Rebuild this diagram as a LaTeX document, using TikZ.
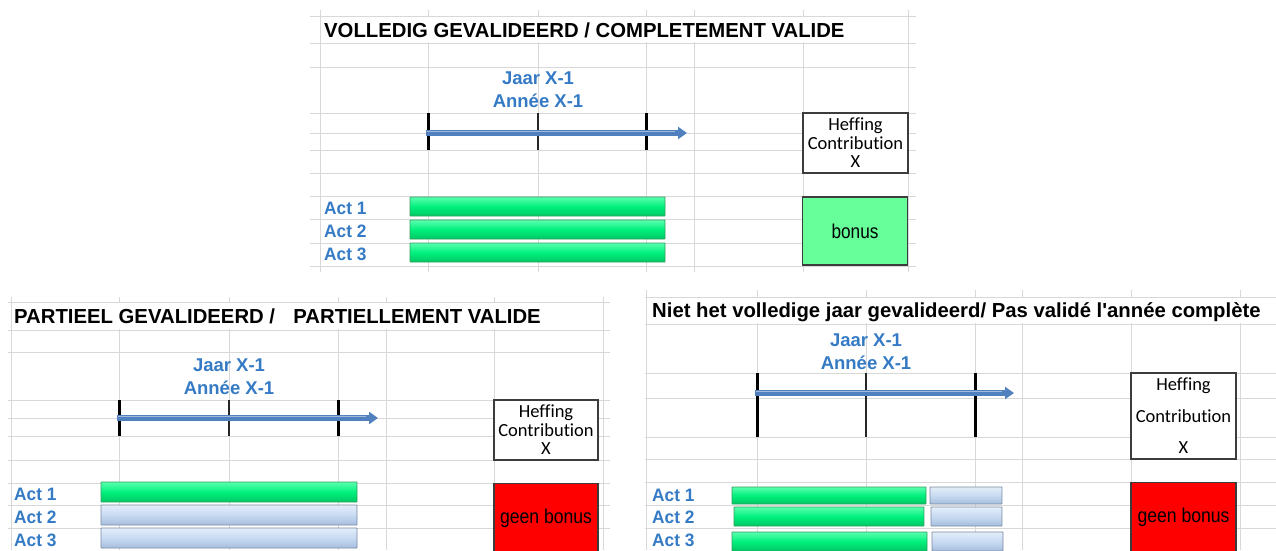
\documentclass[tikz,border=0pt]{standalone}
\usepackage{fontspec}
\setmainfont{Liberation Sans}
\newfontfamily\calib[Ligatures=NoCommon]{Carlito}
\usetikzlibrary{arrows.meta}
\definecolor{gridc}{RGB}{216,216,216}
\definecolor{lblue}{RGB}{52,122,196}
\definecolor{arrowblue}{RGB}{80,128,190}
\definecolor{arrowdark}{RGB}{50,90,150}
\definecolor{gtop}{RGB}{90,255,175}
\definecolor{gmid}{RGB}{0,240,125}
\definecolor{gbot}{RGB}{0,200,100}
\definecolor{gline}{RGB}{50,160,95}
\definecolor{btop}{RGB}{228,238,250}
\definecolor{bmid}{RGB}{200,218,242}
\definecolor{bbot}{RGB}{165,190,222}
\definecolor{bline}{RGB}{120,138,162}
\definecolor{bonusgreen}{RGB}{102,255,153}
\definecolor{boxline}{RGB}{60,60,60}
\begin{document}
\begin{tikzpicture}[x=1pt,y=-1pt,
  grid/.style={draw=gridc, line width=1pt},
  titletxt/.style={anchor=west, inner sep=0pt, font=\bfseries\fontsize{20.3}{22}\selectfont},
  jaartxt/.style={align=center, inner sep=0pt, text=lblue, font=\bfseries\fontsize{18.5}{23}\selectfont},
  actlbl/.style={anchor=west, inner sep=0pt, text=lblue, font=\bfseries\fontsize{18}{20}\selectfont},
  hefbox/.style={draw=boxline, line width=1.4pt, fill=white, inner sep=0pt, align=center, font=\calib\fontsize{18.5}{18.5}\selectfont},
  bonusbox/.style={draw=boxline, line width=1.4pt, inner sep=0pt, font=\fontsize{20}{22}\selectfont},
  greenbar/.style={draw=gline, line width=0.8pt, top color=gtop, bottom color=gbot, middle color=gmid, inner sep=0pt, outer sep=0pt, anchor=north west, rounded corners=0.5pt},
  bluebar/.style={draw=bline, line width=0.8pt, top color=btop, bottom color=bbot, middle color=bmid, inner sep=0pt, outer sep=0pt, anchor=north west, rounded corners=0.5pt},
  tickthick/.style={draw=black, line width=3pt},
  tickthin/.style={draw=black!85, line width=1.3pt},
  yeararrow/.style={draw=arrowblue, line width=5.5pt, -{Triangle[length=9pt,width=12pt]}},
]
\useasboundingbox (0,0) rectangle (1276,550);

% ================= PANEL 1 =================
\foreach \x in {320,428,538,646,694,803,908} \draw[grid] (\x,10) -- (\x,272);
\foreach \y in {16,43,67,113,133,150,173,196,219,243,266} \draw[grid] (310,\y) -- (916,\y);
\fill[white] (321,17) rectangle (907,42);
\node[titletxt] (t1) at (324,30) {VOLLEDIG GEVALIDEERD / COMPLETEMENT VALIDE};
\node[jaartxt] (j1) at (538,90) {Jaar X-1\\Année X-1};
\draw[tickthick] (428,113) -- (428,150);
\draw[tickthin] (538,113) -- (538,150);
\draw[tickthick] (646,113) -- (646,150);
\coordinate (a1s) at (426,133);
\coordinate (a1e) at (687,133);
\draw[yeararrow] (a1s) -- (a1e);
\draw[white!45!arrowblue, line width=1pt] (427,131.5) -- (675,131.5);
\node[hefbox, minimum width=105, minimum height=60] (h1) at (855.5,143) {Heffing\\Contribution\\X};
\node[bonusbox, fill=bonusgreen, minimum width=105, minimum height=68] (bo1) at (855,231) {\scalebox{0.86}[1]{bonus}};
\node[greenbar, minimum width=255, minimum height=19] (g11) at (410,197) {};
\node[greenbar, minimum width=255, minimum height=19] (g12) at (410,220) {};
\node[greenbar, minimum width=255, minimum height=19] (g13) at (410,243) {};
\node[actlbl] (a11) at (324,208) {\scalebox{0.96}[1]{Act 1}};
\node[actlbl] (a12) at (324,231) {\scalebox{0.96}[1]{Act 2}};
\node[actlbl] (a13) at (324,254) {\scalebox{0.96}[1]{Act 3}};

% ================= PANEL 2 =================
\foreach \x in {11,119,229,338,386,494,603} \draw[grid] (\x,297) -- (\x,550);
\foreach \y in {302,330,352,400,418,436,460,483,505,528} \draw[grid] (8,\y) -- (610,\y);
\fill[white] (12,303) rectangle (602,329);
\node[titletxt] (t2) at (14,316) {PARTIEEL GEVALIDEERD /\hspace{0.9em}PARTIELLEMENT VALIDE};
\node[jaartxt] (j2) at (229,376.5) {Jaar X-1\\Année X-1};
\draw[tickthick] (119,400) -- (119,436);
\draw[tickthin] (229,400) -- (229,436);
\draw[tickthick] (338,400) -- (338,436);
\coordinate (a2s) at (117,418);
\coordinate (a2e) at (378,418);
\draw[yeararrow] (a2s) -- (a2e);
\draw[white!45!arrowblue, line width=1pt] (118,416.5) -- (366,416.5);
\node[hefbox, minimum width=104, minimum height=60] (h2) at (546,430) {Heffing\\Contribution\\X};
\node[bonusbox, fill=red, minimum width=104, minimum height=70, anchor=north] (bo2) at (546,483) {\scalebox{0.88}[1]{geen bonus}};
\node[greenbar, minimum width=256, minimum height=20] (g21) at (101,482) {};
\node[bluebar, minimum width=256, minimum height=20] (g22) at (101,505) {};
\node[bluebar, minimum width=256, minimum height=20] (g23) at (101,528) {};
\node[actlbl] (a21) at (14,494) {\scalebox{0.96}[1]{Act 1}};
\node[actlbl] (a22) at (14,517) {\scalebox{0.96}[1]{Act 2}};
\node[actlbl] (a23) at (14,540) {\scalebox{0.96}[1]{Act 3}};

% ================= PANEL 3 =================
\foreach \x in {646,757,866,975,1022,1131,1240} \draw[grid] (\x,290) -- (\x,550);
\foreach \y in {297,324,373,398,437,459,482,505,528} \draw[grid] (645,\y) -- (1276,\y);
\fill[white] (647,298) rectangle (1276,323);
\node[titletxt] (t3) at (652,312) {Niet het volledige jaar gevalideerd/ Pas validé l\textquotesingle année complète};
\node[jaartxt] (j3) at (866,351.5) {Jaar X-1\\Année X-1};
\draw[tickthick] (757,373) -- (757,437);
\draw[tickthin] (866,373) -- (866,437);
\draw[tickthick] (975,373) -- (975,437);
\coordinate (a3s) at (755,393);
\coordinate (a3e) at (1014,393);
\draw[yeararrow] (a3s) -- (a3e);
\draw[white!45!arrowblue, line width=1pt] (756,391.5) -- (1002,391.5);
\node[hefbox, minimum width=105, minimum height=86, font=\calib\fontsize{18.5}{31.5}\selectfont] (h3) at (1183.5,416) {Heffing\\Contribution\\X};
\node[bonusbox, fill=red, minimum width=105, minimum height=70, anchor=north] (bo3) at (1183.5,482) {\scalebox{0.88}[1]{geen bonus}};
\node[greenbar, minimum width=194, minimum height=17] (g31) at (732,487) {};
\node[greenbar, minimum width=190, minimum height=19] (g32) at (734,507) {};
\node[greenbar, minimum width=195, minimum height=19] (g33) at (732,532) {};
\node[bluebar, minimum width=72, minimum height=17] (c31) at (930,487) {};
\node[bluebar, minimum width=71, minimum height=19] (c32) at (931,507) {};
\node[bluebar, minimum width=71, minimum height=19] (c33) at (932,532) {};
\node[actlbl] (a31) at (652,495) {\scalebox{0.96}[1]{Act 1}};
\node[actlbl] (a32) at (652,517) {\scalebox{0.96}[1]{Act 2}};
\node[actlbl] (a33) at (652,540) {\scalebox{0.96}[1]{Act 3}};
\end{tikzpicture}
\end{document}
